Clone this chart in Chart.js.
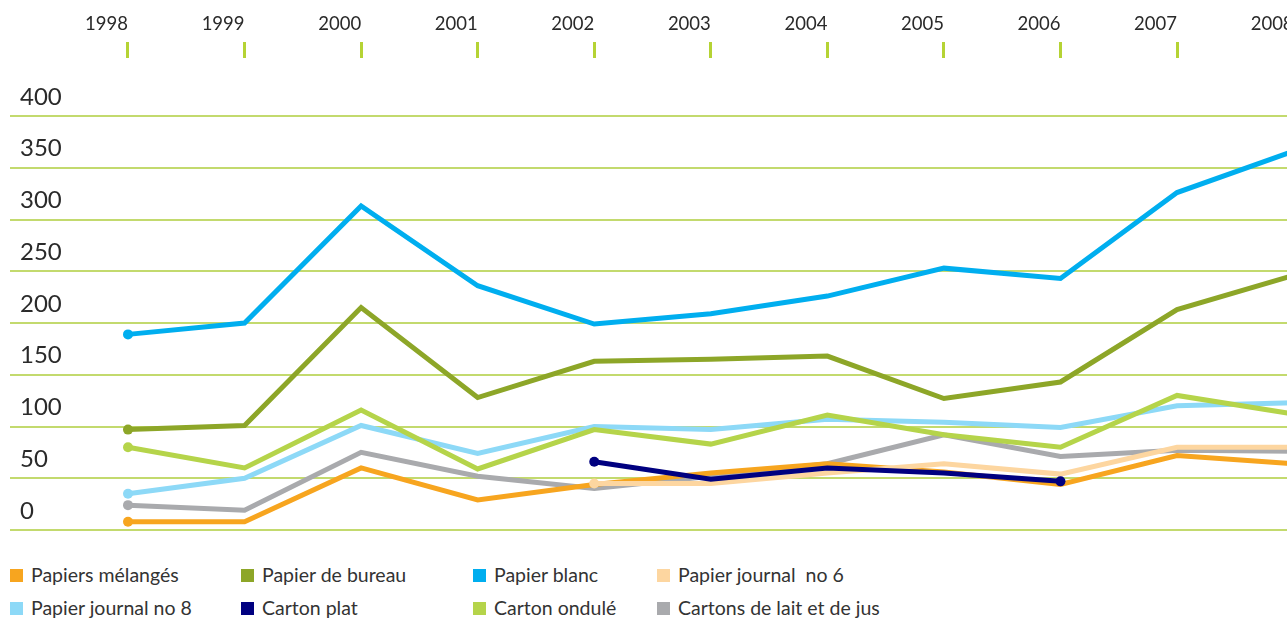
<!DOCTYPE html>
<html>
<head>
<meta charset="utf-8">
<script src="https://cdn.jsdelivr.net/npm/chart.js@4/dist/chart.umd.min.js"></script>
<style>
  html, body { margin: 0; padding: 0; background: #fff; overflow: hidden; }
  #wrap { position: absolute; left: 0; top: 0; width: 1340px; height: 545px; }
  .legend { position: absolute; font-family: Lato, sans-serif; font-size: 19.5px; color: #333; }
  .legend span.sq { position: absolute; width: 13px; height: 13px; }
  .legend span.tx { position: absolute; white-space: pre; }
</style>
</head>
<body>
<div id="wrap"><canvas id="canvas-1"></canvas></div>
<div class="legend" id="legend"></div>
<script>
// years on the top axis
var years = [1998, 1999, 2000, 2001, 2002, 2003, 2004, 2005, 2006, 2007, 2008];

// series values
var papiersMelanges  = [8, 8, 60, 29, 44, 55, 64, 56, 44, 72, 64];
var papierBureau     = [97, 101, 215, 128, 163, 165, 168, 127, 143, 213, 246];
var papierBlanc      = [189, 200, 313, 236, 199, 209, 226, 253, 243, 326, 366];
var papierJournal6   = [null, null, null, null, 45, 45, 55, 64, 54, 80, 80];
var papierJournal8   = [35, 50, 101, 74, 100, 97, 107, 104, 99, 120, 123];
var cartonPlat       = [null, null, null, null, 66, 49, 60, 55, 47, null, null];
var cartonOndule     = [80, 60, 116, 59, 97, 83, 111, 92, 80, 130, 112];
var cartonsLaitJus   = [24, 19, 75, 52, 40, 52, 64, 92, 71, 77, 76];

var seriesNames = ['Papiers mélangés', 'Papier de bureau', 'Papier blanc', 'Papier journal  no 6',
                   'Papier journal no 8', 'Carton plat', 'Carton ondulé', 'Cartons de lait et de jus'];
var seriesData = [papiersMelanges, papierBureau, papierBlanc, papierJournal6,
                  papierJournal8, cartonPlat, cartonOndule, cartonsLaitJus];
var seriesColors = ['#f7a51f', '#8da628', '#00aeef', '#fdd6a0',
                    '#8dd9f7', '#000080', '#b5d44a', '#a9aaad'];
// lower = drawn on top
var seriesOrder = [4, 7, 8, 2, 5, 1, 3, 6];
// which end points get a dot
var dotLast = [false, false, false, false, false, true, false, false];

var yTicks = [0, 50, 100, 150, 200, 250, 300, 350, 400];

var gridGreen = '#c3da6e';
var tickGreen = '#b5d334';

var datasets = seriesData.map(function (arr, k) {
  var pts = years.map(function (yr, i) { return { x: yr, y: arr[i] }; });
  var first = arr.findIndex(function (v) { return v !== null; });
  var last = -1;
  arr.forEach(function (v, i) { if (v !== null) last = i; });
  return {
    label: seriesNames[k],
    data: pts,
    borderColor: seriesColors[k],
    backgroundColor: seriesColors[k],
    borderWidth: 5,
    order: seriesOrder[k],
    tension: 0,
    pointRadius: function (ctx) {
      if (ctx.dataIndex === first) return 5;
      if (dotLast[k] && ctx.dataIndex === last) return 5;
      return 0;
    },
    pointBorderWidth: 0,
    pointHoverRadius: 0
  };
});

var xMin = 1998 - 118 / 116.56;

var ctx = document.getElementById('canvas-1');
var chart = new Chart(ctx, {
  type: 'line',
  data: { datasets: datasets },
  options: {
    responsive: true,
    maintainAspectRatio: false,
    animation: false,
    events: [],
    layout: { padding: { left: 10, right: 0, top: 13, bottom: 15 } },
    plugins: { legend: { display: false }, tooltip: { enabled: false } },
    scales: {
      x: {
        type: 'linear',
        position: 'top',
        min: xMin,
        max: xMin + 1325 / 116.56,
        afterBuildTicks: function (axis) {
          axis.ticks = years.map(function (yr) { return { value: yr }; });
        },
        afterFit: function (axis) {
          axis.paddingLeft = 0;
          axis.paddingRight = 0;
          axis.height = 45;
        },
        border: { display: false },
        grid: { drawOnChartArea: false, color: tickGreen, lineWidth: 3, tickLength: 16, tickWidth: 3 },
        ticks: {
          align: 'end',
          padding: 7,
          color: '#2a2a2a',
          font: { family: 'Lato', size: 18.5 },
          callback: function (v) { return String(v); }
        }
      },
      y: {
        min: 0,
        max: (530 - 58) / 1.035,
        afterBuildTicks: function (axis) {
          axis.ticks = yTicks.map(function (v) { return { value: v }; });
        },
        afterFit: function (axis) {
          axis.width = 0;
          axis.paddingTop = 0;
          axis.paddingBottom = 0;
        },
        border: { display: false },
        grid: { color: gridGreen, lineWidth: 2, drawTicks: false },
        ticks: {
          mirror: true,
          padding: 10,
          labelOffset: -19,
          color: '#2a2a2a',
          font: { family: 'Lato', size: 24 }
        }
      }
    }
  }
});

// legend, two rows of four
var legendCols = [10, 241, 473, 657];
var legendRows = [569, 602];
var html = '';
seriesNames.forEach(function (name, n) {
  var cx = legendCols[n % 4], cy = legendRows[Math.floor(n / 4)];
  html += '<span class="sq" style="left:' + cx + 'px;top:' + cy + 'px;background:' + seriesColors[n] + '"></span>';
  html += '<span class="tx" style="left:' + (cx + 21) + 'px;top:' + (cy - 6) + 'px">' + name + '</span>';
});
document.getElementById('legend').innerHTML = html;
</script>
</body>
</html>
